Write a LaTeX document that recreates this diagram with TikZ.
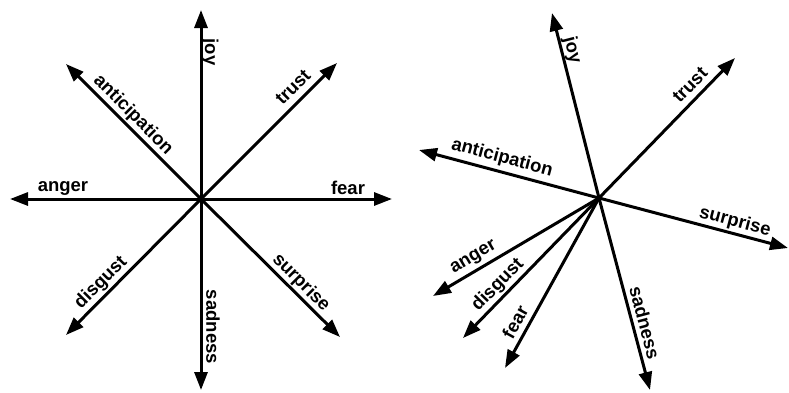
\documentclass[tikz,border=0pt]{standalone}
\usepackage{fontspec}
\setmainfont{Liberation Sans}
\usetikzlibrary{arrows.meta}
\begin{document}
\begin{tikzpicture}[x=1pt,y=-1pt,
  vec/.style={line width=3pt, -{Triangle[length=18pt,width=13pt]}},
  lbl/.style={font=\fontsize{18.5}{20}\selectfont\bfseries, inner sep=0pt}]
\useasboundingbox (0,0) rectangle (789,392);
% left diagram
\coordinate (L) at (201,199);
\coordinate (Ljoy) at (201,10);
\coordinate (Ltrust) at (337,63);
\coordinate (Lfear) at (392,199);
\coordinate (Lsurprise) at (340,337);
\coordinate (Lsadness) at (201,390);
\coordinate (Ldisgust) at (66,335);
\coordinate (Langer) at (10,199);
\coordinate (Lanticipation) at (66,64);
\foreach \t in {joy,trust,fear,surprise,sadness,disgust,anger,anticipation}
  \draw[vec] (L) -- (L\t);
\node[lbl, rotate=-90] (ljoy) at (210,52) {joy};
\node[lbl, rotate=45] (ltrust) at (293,87) {trust};
\node[lbl] (lfear) at (348,188) {fear};
\node[lbl, rotate=-45] (lsurprise) at (301,283) {surprise};
\node[lbl, rotate=-90] (lsadness) at (213,327) {sadness};
\node[lbl, rotate=45] (ldisgust) at (101,283) {disgust};
\node[lbl] (langer) at (63,188) {anger};
\node[lbl, rotate=-45] (lanticipation) at (133,115) {anticipation};
% right diagram
\coordinate (R) at (599,198);
\coordinate (Rjoy) at (552,13);
\coordinate (Rtrust) at (735,58);
\coordinate (Ranticipation) at (419,150);
\coordinate (Rsurprise) at (788,248);
\coordinate (Ranger) at (433,296);
\coordinate (Rdisgust) at (463,338);
\coordinate (Rfear) at (505,368);
\coordinate (Rsadness) at (650,390);
\foreach \t in {joy,trust,anticipation,surprise,anger,disgust,fear,sadness}
  \draw[vec] (R) -- (R\t);
\node[lbl, rotate=-75.7] (rjoy) at (572,50) {joy};
\node[lbl, rotate=45.8] (rtrust) at (690,85) {trust};
\node[lbl, rotate=-14.9] (ranticipation) at (502,158) {anticipation};
\node[lbl, rotate=-14.7] (rsurprise) at (735,222) {surprise};
\node[lbl, rotate=30.6] (ranger) at (474,258) {anger};
\node[lbl, rotate=45.8] (rdisgust) at (498,285) {disgust};
\node[lbl, rotate=61] (rfear) at (515,322) {fear};
\node[lbl, rotate=-75.1] (rsadness) at (645,323) {sadness};
\end{tikzpicture}
\end{document}
